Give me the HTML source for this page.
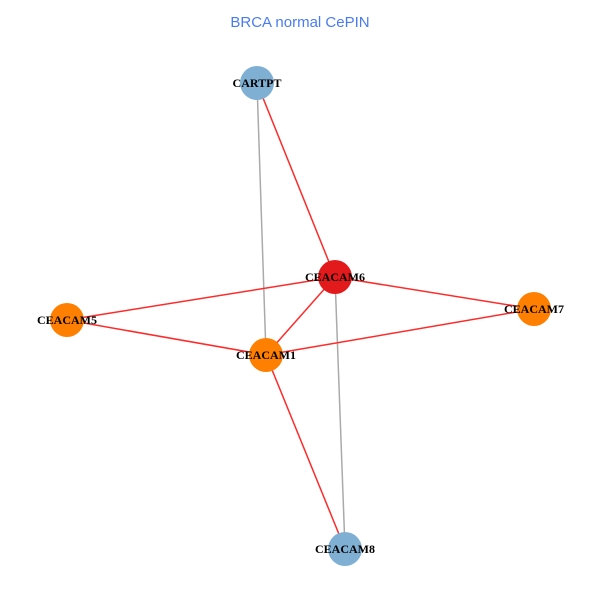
<!DOCTYPE html>
<html><head><meta charset="utf-8"><style>html,body{margin:0;padding:0;background:#fff}svg{display:block}</style></head>
<body>
<svg width="600" height="600" viewBox="0 0 600 600" xmlns="http://www.w3.org/2000/svg">
<rect width="600" height="600" fill="#fff"/>
<text x="300" y="27" text-anchor="middle" font-family="Liberation Sans, sans-serif" font-size="15" fill="#4a7cf0">BRCA normal CePIN</text>
<g stroke-width="1.5" fill="none">
<line x1="257" y1="83" x2="266" y2="355" stroke="#aaaaaa"/>
<line x1="335" y1="277" x2="345" y2="549" stroke="#aaaaaa"/>
<g stroke="#ff2a2a">
<line x1="257" y1="83" x2="335" y2="277"/>
<line x1="335" y1="277" x2="67" y2="320"/>
<line x1="335" y1="277" x2="534" y2="309"/>
<line x1="335" y1="277" x2="266" y2="355"/>
<line x1="67" y1="320" x2="266" y2="355"/>
<line x1="266" y1="355" x2="534" y2="309"/>
<line x1="266" y1="355" x2="345" y2="549"/>
</g></g>
<circle cx="257" cy="83" r="17" fill="#7fb0d3"/>
<circle cx="335" cy="277" r="17" fill="#e31a1c"/>
<circle cx="67" cy="320" r="17" fill="#ff7f00"/>
<circle cx="534" cy="309" r="17" fill="#ff7f00"/>
<circle cx="266" cy="355" r="17" fill="#ff7f00"/>
<circle cx="345" cy="549" r="17" fill="#7fb0d3"/>
<g font-family="Liberation Serif, serif" font-weight="bold" font-size="12" text-anchor="middle" fill="#000">
<text x="257" y="87">CARTPT</text>
<text x="335" y="281">CEACAM6</text>
<text x="67" y="324">CEACAM5</text>
<text x="534" y="313">CEACAM7</text>
<text x="266" y="359">CEACAM1</text>
<text x="345" y="553">CEACAM8</text>
</g>
</svg>
</body></html>
